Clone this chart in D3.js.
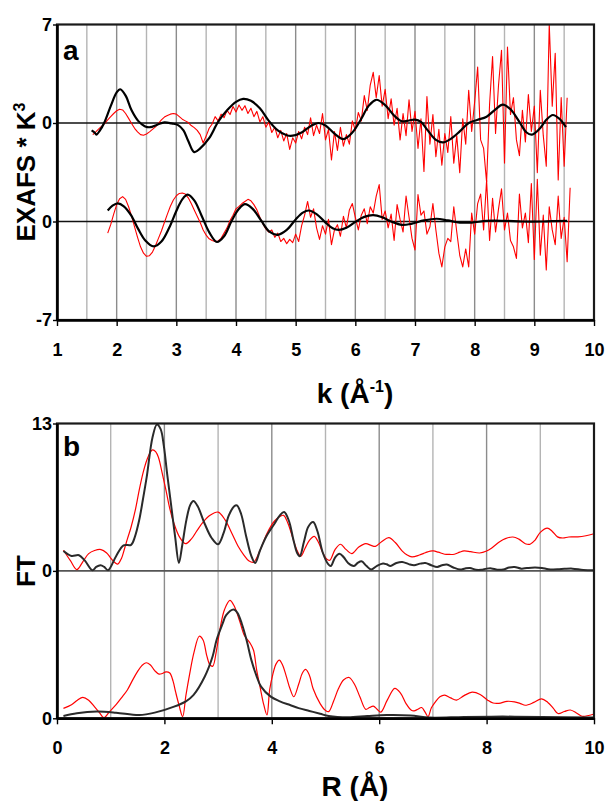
<!DOCTYPE html>
<html>
<head>
<meta charset="utf-8">
<script src="https://cdn.jsdelivr.net/npm/d3@7"></script>
<style>
  body { margin: 0; background: #fff; }
  text { font-family: "Liberation Sans", Arial, sans-serif; font-weight: bold; fill: #000; }
</style>
</head>
<body>
<svg id="chart" width="606" height="801"></svg>
<script>
// ---- panel a : EXAFS * k^3 vs k ----
const kTicks = [1, 2, 3, 4, 5, 6, 7, 8, 9, 10];
const kGrid = [1.5, 2, 2.5, 3, 3.5, 4, 4.5, 5, 5.5, 6, 6.5, 7, 7.5, 8, 8.5, 9, 9.5];
const exafsTickVals = [7, 7 / 3, -7 / 3, -7];
const exafsTickText = ["7", "0", "0", "-7"];
const exafsOffsets = [7 / 3, -7 / 3];   // zero lines of the two stacked spectra

// experimental (red), sampled every 0.05 in k
const redStep = 0.05;
const redTopK0 = 1.60;
const redTop = [
  -0.55, -0.42, -0.28, -0.15, -0.02, 0.15, 0.30, 0.45, 0.58, 0.65,
  0.62, 0.45, 0.22, -0.02, -0.25, -0.42, -0.55, -0.58, -0.52, -0.42,
  -0.30, -0.18, -0.02, 0.15, 0.28, 0.36, 0.42, 0.45, 0.42, 0.30,
  0.18, 0.10, 0.02, -0.12, -0.22, -0.35, -0.55, -0.95, -0.62, -0.25,
  -0.05, 0.30, 0.10, 0.42, 0.25, 0.60, 0.40, 0.78, 0.52, 0.85,
  0.60, 0.82, 0.45, 0.70, 0.30, 0.55, 0.05, 0.30, -0.20, 0.05,
  -0.45, -0.20, -0.70, -0.35, -0.85, -0.50, -1.25, -0.70, -0.95, -0.40,
  -0.75, -0.20, -0.55, 0.25, -0.60, -0.10, -0.50, 0.45, -0.80, -0.30,
  -1.75, -0.40, -1.30, -0.20, -1.10, -0.55, -1.00, 0.10, -0.35, 0.50,
  0.10, 1.30, 0.60, 1.80, 2.40, 1.20, 2.25, 0.80, 1.60, 0.20,
  1.15, -0.10, 0.70, -0.80, 0.45, -0.60, 1.10, -0.40, 0.55, -1.20,
  0.20, -2.30, 1.25, -1.00, 0.40, -1.60, -0.30, -2.00, -0.50, -1.40,
  0.30, -1.90, -0.60, -2.35, 0.20, -1.00, 1.55, -0.40, 1.00, 2.65,
  -0.80, -1.20, -2.80, 0.90, 3.15, -0.50, 1.80, 3.45, -1.90, 3.60,
  0.40, 1.20, -0.80, -1.55, 0.60, -0.90, 1.35, -0.40, 0.80, -2.35,
  1.55, -0.60, -2.05, 4.70, 0.80, 3.30, -2.70, 1.20, -2.05, 1.20
];
const redBotK0 = 1.85;
const redBot = [
  -0.55, -0.15, 0.35, 0.80, 1.08, 1.18, 1.05, 0.70, 0.25, -0.25,
  -0.75, -1.20, -1.50, -1.65, -1.62, -1.45, -1.15, -0.80, -0.45, -0.05,
  0.35, 0.72, 1.02, 1.22, 1.33, 1.35, 1.30, 1.12, 0.85, 0.55,
  0.25, -0.05, -0.40, -0.65, -0.82, -0.90, -0.95, -0.92, -0.80, -0.55,
  -0.30, 0.05, 0.30, 0.60, 0.72, 0.85, 0.95, 1.05, 0.98, 0.80,
  0.55, 0.20, -0.10, -0.35, -0.50, -0.40, -0.75, -0.55, -0.95, -0.80,
  -1.05, -0.85, -1.00, -0.60, -0.95, -0.20, 0.30, 0.95, 0.20, 0.60,
  -0.30, -0.85, -0.20, -0.60, 0.10, -1.10, -0.40, -0.15, -0.70, 0.25,
  -0.30, 0.55, 0.85, 0.20, -0.40, 0.30, 0.60, -0.10, 0.70, 0.40,
  1.20, 1.75, 0.10, 0.50, -0.30, 0.35, -0.90, 0.80, 0.10, -0.50,
  1.20, 0.20, -0.80, -1.35, 1.28, 0.30, 0.50, -0.60, -0.25, 0.85,
  -0.40, -1.50, -2.15, -1.20, -0.80, -0.95, 0.70, -0.50, -1.60, -2.15,
  -1.30, -2.15, 0.40, -0.60, 0.85, 1.30, -0.40, 1.95, -0.90, 1.10,
  -0.50, 0.60, 1.55, -0.40, 0.40, -0.90, -1.20, -1.75, 1.30, -0.30,
  0.40, -1.00, 1.80, -1.80, 2.00, -1.60, 0.30, -2.30, 0.70, -0.40,
  -1.10, 1.20, -0.80, 0.20, -1.90, 1.60
];

// fits (black), [k, value]
const fitTop = [
  [1.58, -0.35], [1.63, -0.45], [1.66, -0.55], [1.72, -0.35], [1.79, 0.0], [1.9, 0.8],
  [2.0, 1.45], [2.06, 1.6], [2.15, 1.3], [2.25, 0.6], [2.36, 0.1], [2.47, -0.15],
  [2.56, -0.2], [2.68, -0.08], [2.8, 0.03], [2.92, -0.02], [3.03, -0.1], [3.12, -0.35],
  [3.2, -0.85], [3.3, -1.38], [3.4, -1.2], [3.55, -0.72], [3.7, 0.05], [3.85, 0.6],
  [4.0, 1.0], [4.12, 1.14], [4.25, 1.05], [4.4, 0.7], [4.55, 0.1], [4.7, -0.35],
  [4.85, -0.58], [4.95, -0.6], [5.1, -0.45], [5.25, -0.15], [5.38, 0.0], [5.5, -0.12],
  [5.65, -0.5], [5.8, -0.76], [5.95, -0.45], [6.1, 0.2], [6.22, 0.8], [6.35, 1.1],
  [6.5, 0.85], [6.65, 0.35], [6.78, 0.08], [6.9, 0.12], [7.0, 0.16], [7.1, 0.05],
  [7.2, -0.3], [7.35, -0.8], [7.47, -0.92], [7.6, -0.75], [7.75, -0.4], [7.9, 0.0],
  [8.05, 0.15], [8.2, 0.3], [8.35, 0.65], [8.47, 0.87], [8.6, 0.65], [8.75, 0.05],
  [8.87, -0.45], [8.96, -0.55], [9.08, -0.3], [9.2, 0.15], [9.31, 0.38], [9.42, 0.2],
  [9.53, -0.2]
];
const fitBot = [
  [1.85, 0.52], [1.93, 0.75], [2.02, 0.86], [2.12, 0.72], [2.24, 0.3], [2.36, -0.35],
  [2.48, -0.9], [2.62, -1.18], [2.75, -0.95], [2.88, -0.3], [3.0, 0.5], [3.1, 1.05],
  [3.19, 1.27], [3.3, 1.0], [3.42, 0.3], [3.55, -0.5], [3.68, -0.97], [3.8, -0.7],
  [3.93, 0.05], [4.05, 0.6], [4.15, 0.82], [4.28, 0.6], [4.42, 0.05], [4.56, -0.48],
  [4.7, -0.63], [4.85, -0.4], [5.0, 0.1], [5.12, 0.42], [5.22, 0.52], [5.35, 0.35],
  [5.5, -0.05], [5.62, -0.32], [5.72, -0.4], [5.85, -0.3], [6.0, -0.02], [6.15, 0.22],
  [6.3, 0.3], [6.45, 0.2], [6.6, 0.0], [6.78, -0.16], [6.95, -0.1], [7.15, 0.05],
  [7.36, 0.13], [7.55, 0.05], [7.75, -0.05], [7.95, -0.05], [8.2, 0.03], [8.5, 0.03],
  [8.8, 0.0], [9.1, 0.0], [9.3, 0.02], [9.55, 0.03]
];

// ---- panel b : FT magnitude vs R ----
const rTicks = [0, 2, 4, 6, 8, 10];
const rGrid = [1, 2, 3, 4, 5, 6, 7, 8, 9];
const ftTickVals = [13, 0, -13];
const ftTickText = ["13", "0", "0"];
const ftOffsets = [0, -13];

const ftFitTop = [
  [0.12, 1.76], [0.27, 1.32], [0.41, 1.38], [0.52, 0.9], [0.66, 0.06], [0.73, 0.35],
  [0.81, 0.5], [0.88, 0.35], [0.95, 0.06], [1.1, 1.3], [1.24, 2.26], [1.38, 2.3],
  [1.45, 3.0], [1.53, 4.46], [1.6, 6.3], [1.67, 8.27], [1.78, 11.8], [1.86, 12.9],
  [1.93, 12.5], [1.99, 11.0], [2.05, 8.6], [2.12, 6.0], [2.2, 3.0], [2.27, 0.7],
  [2.33, 2.2], [2.41, 4.5], [2.48, 5.8], [2.54, 6.16], [2.62, 5.7], [2.75, 4.16],
  [2.88, 2.9], [3.0, 2.35], [3.1, 3.3], [3.2, 4.9], [3.3, 5.7], [3.35, 5.78],
  [3.43, 5.0], [3.52, 3.1], [3.62, 1.3], [3.69, 0.7], [3.78, 1.8], [3.9, 3.05],
  [4.05, 4.16], [4.15, 4.9], [4.23, 5.19], [4.32, 4.4], [4.4, 2.8], [4.47, 1.6],
  [4.52, 1.29], [4.6, 2.6], [4.68, 3.9], [4.77, 4.31], [4.85, 3.5], [4.95, 1.6],
  [5.05, 0.6], [5.1, 0.44], [5.18, 1.2], [5.26, 1.52], [5.34, 1.2], [5.42, 0.7],
  [5.53, 0.44], [5.6, 0.7], [5.67, 0.85], [5.76, 0.45], [5.85, 0.12], [5.96, 0.45],
  [6.07, 0.65], [6.14, 0.58], [6.21, 0.44], [6.32, 0.7], [6.43, 0.79], [6.55, 0.6],
  [6.65, 0.5], [6.76, 0.64], [6.86, 0.7], [6.97, 0.5], [7.08, 0.35], [7.17, 0.5],
  [7.26, 0.56], [7.38, 0.3], [7.51, 0.12], [7.6, 0.22], [7.69, 0.26], [7.8, 0.1],
  [7.9, 0.1], [8.0, 0.2], [8.09, 0.22], [8.2, 0.1], [8.31, 0.12], [8.42, 0.3],
  [8.52, 0.35], [8.65, 0.2], [8.75, 0.25], [8.9, 0.3], [9.03, 0.26], [9.15, 0.15],
  [9.32, 0.14], [9.45, 0.18], [9.6, 0.2], [9.8, 0.08], [10, 0.05]
];
const ftExpTop = [
  [0.12, 1.82], [0.25, 0.9], [0.37, 0.12], [0.48, 0.8], [0.59, 1.52], [0.7, 1.8],
  [0.82, 1.88], [0.92, 1.6], [0.99, 1.2], [1.06, 0.8], [1.13, 0.6], [1.2, 1.1],
  [1.26, 2.0], [1.31, 2.8], [1.38, 3.87], [1.46, 5.4], [1.53, 7.1], [1.6, 8.6],
  [1.67, 9.74], [1.73, 10.4], [1.78, 10.67], [1.84, 10.5], [1.89, 10.0], [1.96, 8.6],
  [2.03, 7.1], [2.1, 5.5], [2.18, 4.16], [2.28, 3.0], [2.39, 2.4], [2.5, 2.8],
  [2.61, 3.58], [2.72, 4.3], [2.85, 4.9], [3.0, 5.19], [3.13, 4.5], [3.26, 3.28],
  [3.37, 2.2], [3.48, 1.4], [3.57, 0.9], [3.66, 0.76], [3.78, 1.8], [3.91, 3.3],
  [4.05, 4.4], [4.15, 4.8], [4.22, 4.9], [4.3, 4.2], [4.41, 2.6], [4.48, 1.7],
  [4.54, 1.29], [4.62, 2.0], [4.7, 2.7], [4.79, 3.05], [4.87, 2.5], [4.95, 1.6],
  [5.02, 1.05], [5.08, 0.94], [5.18, 1.9], [5.28, 2.35], [5.38, 1.9], [5.49, 1.52],
  [5.62, 2.1], [5.75, 2.4], [5.85, 2.25], [5.93, 2.17], [6.05, 2.6], [6.18, 2.93],
  [6.3, 2.5], [6.43, 1.75], [6.52, 1.4], [6.61, 1.23], [6.75, 1.4], [6.86, 1.6],
  [6.95, 1.75], [7.01, 1.76], [7.1, 1.65], [7.22, 1.47], [7.3, 1.45], [7.4, 1.47],
  [7.5, 1.65], [7.58, 1.76], [7.7, 1.7], [7.87, 1.58], [8.0, 1.75], [8.09, 2.0],
  [8.25, 2.6], [8.35, 2.85], [8.49, 2.99], [8.6, 2.8], [8.72, 2.4], [8.81, 2.35],
  [8.9, 2.7], [9.0, 3.4], [9.13, 3.78], [9.22, 3.5], [9.32, 3.0], [9.42, 2.9],
  [9.53, 2.99], [9.7, 3.0], [9.85, 3.1], [10, 3.28]
];
const ftFitBot = [
  [0.12, 0.2], [0.37, 0.44], [0.74, 0.59], [1.1, 0.5], [1.53, 0.29], [1.82, 0.5],
  [2.18, 1.03], [2.4, 1.5], [2.54, 2.05], [2.75, 3.67], [2.9, 5.5], [2.97, 6.89],
  [3.08, 8.3], [3.15, 9.09], [3.29, 9.59], [3.36, 9.3], [3.44, 8.36], [3.53, 6.9],
  [3.62, 5.13], [3.71, 3.8], [3.8, 2.79], [3.98, 1.91], [4.15, 1.5], [4.34, 1.17],
  [4.5, 0.9], [4.7, 0.65], [4.9, 0.4], [5.06, 0.2], [5.42, 0.09], [5.78, 0.2],
  [6.14, 0.29], [6.58, 0.25], [6.94, 0.06], [7.58, 0.12], [8.3, 0.15], [9.03, 0.12],
  [10, 0.06]
];
const ftExpBot = [
  [0.12, 0.88], [0.27, 1.2], [0.38, 1.6], [0.48, 1.85], [0.59, 1.6], [0.7, 1.0],
  [0.79, 0.5], [0.87, 0.06], [0.98, 0.6], [1.1, 1.2], [1.2, 1.8], [1.31, 2.5],
  [1.4, 3.3], [1.49, 4.05], [1.58, 4.65], [1.66, 4.9], [1.74, 4.7], [1.82, 4.2],
  [1.9, 3.9], [1.96, 3.95], [2.03, 4.1], [2.1, 4.0], [2.16, 3.3], [2.21, 2.3],
  [2.27, 1.2], [2.34, 0.15], [2.4, 2.0], [2.47, 3.9], [2.55, 5.8], [2.65, 7.24],
  [2.72, 6.9], [2.79, 5.5], [2.85, 4.7], [2.9, 4.6], [2.97, 6.0], [3.04, 8.0],
  [3.12, 9.6], [3.22, 10.4], [3.3, 9.9], [3.4, 8.6], [3.48, 7.4], [3.53, 7.04],
  [3.6, 6.6], [3.66, 6.0], [3.72, 4.2], [3.78, 2.8], [3.85, 1.2], [3.91, 0.29],
  [3.96, 2.5], [4.02, 3.9], [4.08, 4.8], [4.14, 5.13], [4.2, 4.7], [4.27, 3.7],
  [4.34, 2.6], [4.41, 1.9], [4.5, 3.0], [4.57, 4.0], [4.63, 4.31], [4.7, 3.8],
  [4.77, 2.6], [4.9, 1.3], [5.0, 0.7], [5.06, 0.59], [5.15, 1.5], [5.24, 2.6],
  [5.34, 3.4], [5.44, 3.6], [5.54, 3.0], [5.64, 1.9], [5.75, 0.79], [5.82, 0.95],
  [5.89, 1.08], [5.96, 0.8], [6.03, 0.55], [6.15, 1.6], [6.29, 2.64], [6.4, 2.2],
  [6.5, 1.3], [6.6, 0.7], [6.65, 0.65], [6.72, 0.8], [6.79, 0.95], [6.86, 0.5],
  [6.91, 0.15], [6.97, 0.9], [7.04, 1.4], [7.13, 1.9], [7.22, 2.05], [7.33, 1.8],
  [7.44, 1.61], [7.58, 2.0], [7.73, 2.3], [7.88, 2.1], [8.02, 1.6], [8.12, 1.35],
  [8.23, 1.32], [8.38, 1.5], [8.52, 1.45], [8.63, 1.3], [8.72, 1.15], [8.88, 1.4],
  [9.02, 1.72], [9.14, 1.4], [9.24, 0.9], [9.33, 0.42], [9.45, 0.6], [9.56, 0.73],
  [9.68, 0.45], [9.78, 0.18], [9.9, 0.25], [10, 0.38]
];

const svg = d3.select("#chart");

function drawPanel(p) {
    let g = svg.append("g");
    let x = d3.scaleLinear().domain(p.xDomain).range([p.left, p.right]);
    let y = d3.scaleLinear().domain(p.yDomain).range([p.bottom, p.top]);

    // vertical grid
    g.selectAll(".grid")
        .data(p.grid)
        .enter()
        .append("line")
        .attr("x1", function (d) { return x(d); })
        .attr("x2", function (d) { return x(d); })
        .attr("y1", p.top)
        .attr("y2", p.bottom)
        .attr("stroke", function (d) { return p.darkGrid(d) ? "#8c8c8c" : "#b4b4b4"; })
        .attr("stroke-width", 1.4);

    // zero lines of the stacked curves
    g.selectAll(".zero")
        .data(p.offsets)
        .enter()
        .append("line")
        .attr("x1", p.left)
        .attr("x2", p.right)
        .attr("y1", function (d) { return y(d); })
        .attr("y2", function (d) { return y(d); })
        .attr("stroke", p.zeroColor)
        .attr("stroke-width", p.zeroWidth);

    let clipId = "clip-" + p.name;
    svg.append("clipPath").attr("id", clipId)
        .append("rect")
        .attr("x", p.left).attr("y", p.top)
        .attr("width", p.right - p.left).attr("height", p.bottom - p.top);

    let curves = g.append("g").attr("clip-path", "url(#" + clipId + ")");
    p.series.forEach(function (s) {
        let line = d3.line()
            .x(function (d) { return x(d[0]); })
            .y(function (d) { return y(d[1] + s.offset); })
            .curve(s.curve);
        curves.append("path")
            .datum(s.data)
            .attr("d", line)
            .attr("fill", "none")
            .attr("stroke", s.color)
            .attr("stroke-width", s.width)
            .attr("stroke-linejoin", "round");
    });

    // frame
    g.append("rect")
        .attr("x", p.left).attr("y", p.top)
        .attr("width", p.right - p.left).attr("height", p.bottom - p.top)
        .attr("fill", "none")
        .attr("stroke", "#1a1a1a")
        .attr("stroke-width", 2.2);

    let xAxis = g.append("g")
        .attr("transform", "translate(0," + p.bottom + ")")
        .call(d3.axisBottom(x).tickValues(p.xTicks).tickSize(6).tickSizeOuter(0).tickPadding(17).tickFormat(d3.format("d")));
    xAxis.select(".domain").attr("stroke", "#000").attr("stroke-width", 2.6);
    xAxis.selectAll(".tick line").attr("stroke", "#000").attr("stroke-width", 1.4);
    xAxis.selectAll("text").style("font-size", "18px").style("font-family", "Liberation Sans, Arial, sans-serif").style("font-weight", "bold");

    let yAxis = g.append("g")
        .attr("transform", "translate(" + p.left + ",0)")
        .call(d3.axisLeft(y).tickValues(p.yTicks).tickSize(4).tickSizeOuter(0).tickPadding(1)
            .tickFormat(function (d, i) { return p.yTickText[i]; }));
    yAxis.select(".domain").attr("stroke", "#000").attr("stroke-width", 2.6);
    yAxis.selectAll(".tick line").attr("stroke", "#000").attr("stroke-width", 1.4);
    yAxis.selectAll("text").style("font-size", "18px").style("font-family", "Liberation Sans, Arial, sans-serif").style("font-weight", "bold");

    // panel letter
    g.append("text")
        .attr("x", p.left + 6)
        .attr("y", p.top + p.letterDy)
        .style("font-size", "28px")
        .text(p.letter);

    return [x, y];
}

drawPanel({
    name: "a", letter: "a", letterDy: 35,
    left: 57, right: 594, top: 24.5, bottom: 320,
    xDomain: [1, 10], yDomain: [-7, 7],
    xTicks: kTicks, grid: kGrid,
    darkGrid: function (d) { return d % 1 === 0; },
    yTicks: exafsTickVals, yTickText: exafsTickText,
    offsets: exafsOffsets, zeroColor: "#111", zeroWidth: 1.3,
    series: [
        { data: redTop.map(function (v, i) { return [redTopK0 + i * redStep, v]; }), offset: exafsOffsets[0], color: "#ff0000", width: 1.1, curve: d3.curveLinear },
        { data: redBot.map(function (v, i) { return [redBotK0 + i * redStep, v]; }), offset: exafsOffsets[1], color: "#ff0000", width: 1.1, curve: d3.curveLinear },
        { data: fitTop, offset: exafsOffsets[0], color: "#000", width: 2.2, curve: d3.curveCatmullRom },
        { data: fitBot, offset: exafsOffsets[1], color: "#000", width: 2.2, curve: d3.curveCatmullRom }
    ]
});

drawPanel({
    name: "b", letter: "b", letterDy: 32,
    left: 57, right: 594, top: 423.5, bottom: 718.3,
    xDomain: [0, 10], yDomain: [-13, 13],
    xTicks: rTicks, grid: rGrid,
    darkGrid: function (d) { return d % 2 === 0; },
    yTicks: ftTickVals, yTickText: ftTickText,
    offsets: ftOffsets, zeroColor: "#555", zeroWidth: 1.6,
    series: [
        { data: ftExpTop, offset: ftOffsets[0], color: "#ff0000", width: 1.2, curve: d3.curveCatmullRom },
        { data: ftExpBot, offset: ftOffsets[1], color: "#ff0000", width: 1.2, curve: d3.curveCatmullRom },
        { data: ftFitTop, offset: ftOffsets[0], color: "#2a2a2a", width: 2, curve: d3.curveCatmullRom },
        { data: ftFitBot, offset: ftOffsets[1], color: "#2a2a2a", width: 2, curve: d3.curveCatmullRom }
    ]
});

// axis titles
let ta = svg.append("text")
    .attr("transform", "translate(35,172) rotate(-90)")
    .attr("text-anchor", "middle")
    .style("font-size", "26px");
ta.append("tspan").text("EXAFS * K");
ta.append("tspan").attr("dy", -10).style("font-size", "16px").text("3");

svg.append("text")
    .attr("transform", "translate(35,571) rotate(-90)")
    .attr("text-anchor", "middle")
    .style("font-size", "26px")
    .text("FT");

let tk = svg.append("text")
    .attr("x", 355).attr("y", 403)
    .attr("text-anchor", "middle")
    .style("font-size", "28px");
tk.append("tspan").text("k (Å");
tk.append("tspan").attr("dy", -11).style("font-size", "16px").text("-1");
tk.append("tspan").attr("dy", 11).text(")");

svg.append("text")
    .attr("x", 355).attr("y", 796)
    .attr("text-anchor", "middle")
    .style("font-size", "28px")
    .text("R (Å)");
</script>
</body>
</html>
